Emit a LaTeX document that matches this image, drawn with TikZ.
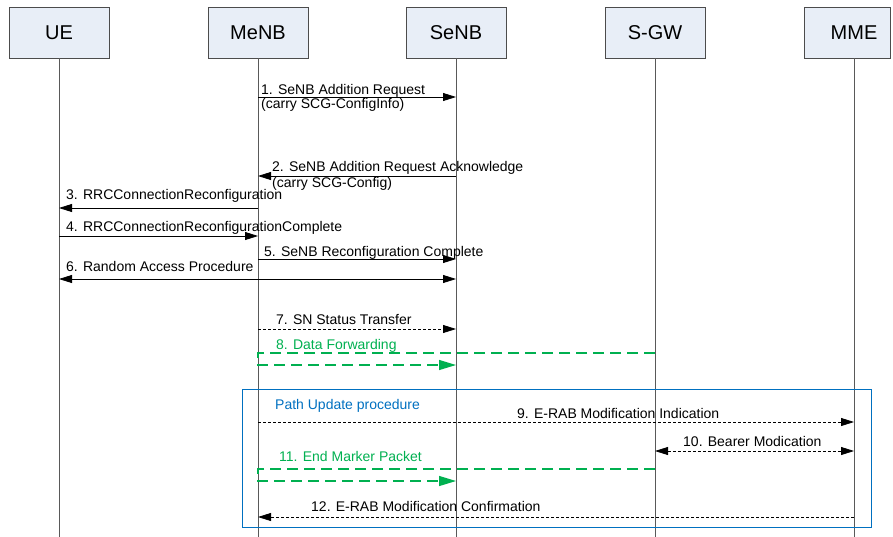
\documentclass[tikz,border=0pt]{standalone}
\usepackage{fontspec}
\setmainfont{Liberation Sans}
\usetikzlibrary{arrows.meta}
\definecolor{boxfill}{HTML}{E8EEF7}
\definecolor{fwdgreen}{HTML}{00B050}
\definecolor{procblue}{HTML}{0070C0}

\begin{document}
\begin{tikzpicture}[x=1pt,y=-1pt,
  entity/.style={draw=black!70,fill=boxfill,line width=0.8pt,
    minimum width=100pt,minimum height=51pt,inner sep=0pt,
    font=\fontsize{20}{24}\selectfont},
  lifeline/.style={draw=black!65,line width=0.9pt},
  msg/.style={line width=0.8pt,-{Triangle[length=13pt,width=8pt]}},
  msgboth/.style={line width=0.8pt,{Triangle[length=13pt,width=8pt]}-{Triangle[length=13pt,width=8pt]}},
  dmsg/.style={msg,dash pattern=on 3pt off 2pt},
  dmsgboth/.style={msgboth,dash pattern=on 3pt off 2pt},
  fwd/.style={fwdgreen,line width=1.2pt,dash pattern=on 11pt off 6pt,
    -{Triangle[length=17pt,width=10pt]}},
  lbl/.style={anchor=base west,inner sep=0pt,font=\fontsize{14}{16}\selectfont},
  proc/.style={draw=procblue,line width=1pt}
  ]
\useasboundingbox (0,0) rectangle (893,536);
\clip (0,0) rectangle (893,536);

% entities
\node[entity] (ue)   at (59,32.5)  {UE};
\node[entity] (menb) at (258,32.5) {MeNB};
\node[entity] (senb) at (456,32.5) {SeNB};
\node[entity] (sgw)  at (655,32.5) {S-GW};
\node[entity,minimum width=86pt] (mmebox) at (847,32.5) {};
\node[inner sep=0pt,font=\fontsize{20}{24}\selectfont] (mme) at (854,32.5) {MME};

% lifelines
\foreach \e in {ue,menb,senb,sgw}
  \draw[lifeline] (\e.south) -- (\e.south |- 0,540);
\draw[lifeline] (mme |- mmebox.south) -- (mme |- 0,540);

% message rows
\coordinate (r1) at (0,97);
\coordinate (r2) at (0,176);
\coordinate (r3) at (0,208);
\coordinate (r4) at (0,236);
\coordinate (r5) at (0,259);
\coordinate (r6) at (0,279);
\coordinate (r7) at (0,329);
\coordinate (r8a) at (0,353);
\coordinate (r8b) at (0,365);
\coordinate (r9) at (0,422);
\coordinate (r10) at (0,451);
\coordinate (r11a) at (0,469);
\coordinate (r11b) at (0,481);
\coordinate (r12) at (0,517);

% path update procedure
\draw[proc] (242,389) rectangle (871,527);
\node[lbl,text=procblue] (tpath) at (275,409) {Path Update procedure};

% 1.
\draw[msg] (menb |- r1) -- (senb |- r1);
\node[lbl] (t1) at (261,94) {1. SeNB Addition Request};
\node[lbl] (t1b) at (261,108) {(carry SCG-ConfigInfo)};
% 2.
\draw[msg] (senb |- r2) -- (menb |- r2);
\node[lbl] (t2) at (272,171) {2. SeNB Addition Request Acknowledge};
\node[lbl] (t2b) at (272,187) {(carry SCG-Config)};
% 3.
\draw[msg] (menb |- r3) -- (ue |- r3);
\node[lbl] (t3) at (66,199) {3. RRCConnectionReconfiguration};
% 4.
\draw[msg] (ue |- r4) -- (menb |- r4);
\node[lbl] (t4) at (66,231) {4. RRCConnectionReconfigurationComplete};
% 5.
\draw[msg] (menb |- r5) -- (senb |- r5);
\node[lbl] (t5) at (264,256) {5. SeNB Reconfiguration Complete};
% 6.
\draw[msgboth] (ue |- r6) -- (senb |- r6);
\node[lbl] (t6) at (66,271) {6. Random Access Procedure};
% 7.
\draw[dmsg] (menb |- r7) -- (senb |- r7);
\node[lbl] (t7) at (276,324) {7. SN Status Transfer};
% 8.
\draw[fwd] (sgw |- r8a) -- (menb |- r8a) -- (menb |- r8b) -- (senb |- r8b);
\node[lbl,text=fwdgreen] (t8) at (276,349) {8. Data Forwarding};
% 9.
\draw[dmsg] (menb |- r9) -- (mme |- r9);
\node[lbl] (t9) at (517,418) {9. E-RAB Modification Indication};
% 10.
\draw[dmsgboth] (sgw |- r10) -- (mme |- r10);
\node[lbl] (t10) at (683,446) {10. Bearer Modication};
% 11.
\draw[fwd] (sgw |- r11a) -- (menb |- r11a) -- (menb |- r11b) -- (senb |- r11b);
\node[lbl,text=fwdgreen] (t11) at (279,461) {11. End Marker Packet};
% 12.
\draw[dmsg] (mme |- r12) -- (menb |- r12);
\node[lbl] (t12) at (311,511) {12. E-RAB Modification Confirmation};
\end{tikzpicture}
\end{document}
